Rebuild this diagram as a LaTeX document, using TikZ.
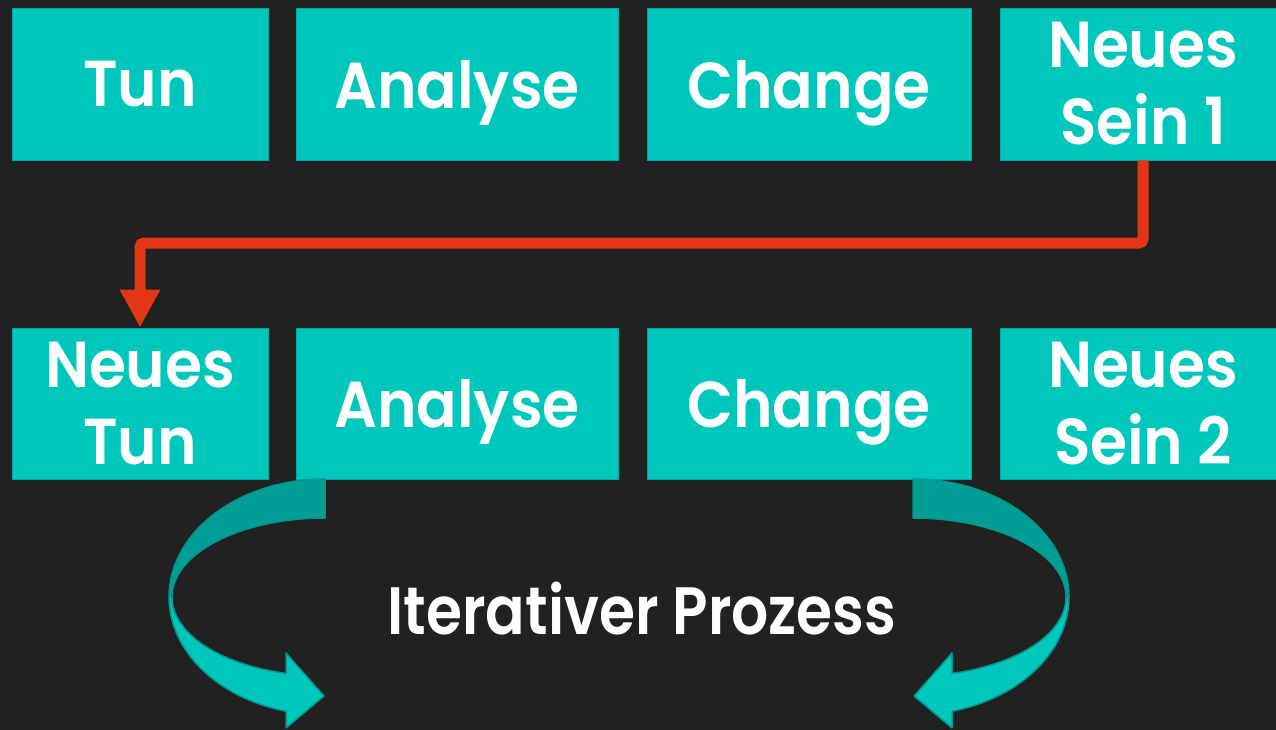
\documentclass[tikz,border=0pt]{standalone}
\usepackage{fontspec}
\setmainfont{Poppins}
\newfontfamily\boxfont{Poppins SemiBold}[FakeStretch=0.92]
\newfontfamily\iterfont{Poppins SemiBold}[FakeStretch=0.87]
\usetikzlibrary{arrows.meta}
\definecolor{bg}{HTML}{212121}
\definecolor{boxteal}{HTML}{00C7BB}
\definecolor{boxedge}{HTML}{00A99F}
\definecolor{darkband}{HTML}{009E94}
\definecolor{bandline}{HTML}{00968C}
\definecolor{arrowred}{HTML}{E23516}
\newcommand\iterarrow{%
  \filldraw[band, fill=darkband]
    plot[domain=270:180, samples=50, variable=\t] ({325+156*cos(\t)},{597+118*sin(\t)})
    -- plot[domain=180:270, samples=50, variable=\t] ({325+153*cos(\t)},{597+79*sin(\t)})
    -- cycle;
  \filldraw[band, fill=boxteal]
    plot[domain=180:104.48, samples=50, variable=\t] ({325+156*cos(\t)},{597+118*sin(\t)})
    -- (286,728) -- (324,696) -- (286,653) -- (286,673.4)
    -- plot[domain=104.77:180, samples=50, variable=\t] ({325+153*cos(\t)},{597+79*sin(\t)})
    -- cycle;
}
\begin{document}
\begin{tikzpicture}[x=1pt,y=-1pt,
  box/.style={fill=boxteal, draw=boxedge, line width=0.8pt, minimum height=152pt,
    inner sep=0pt, text=white, align=center,
    font=\boxfont\fontsize{65}{77}\selectfont},
  redarrow/.style={draw=arrowred, line width=11pt, rounded corners=4pt,
    -{Triangle[width=38pt,length=38pt]}},
  band/.style={draw=bandline, line width=1.5pt, line join=round},
  label/.style={text=white, inner sep=0pt, font=\iterfont\fontsize{67}{78}\selectfont}]
\fill[bg] (0,0) rectangle (1276,730);
\useasboundingbox (0,0) rectangle (1276,730);
% row 1
\node[box, minimum width=256pt] (tun) at (140,84) {Tun};
\node[box, minimum width=322pt, text depth=0pt] (an1) at (457,84) {Analyse};
\node[box, minimum width=324pt, text depth=0pt] (ch1) at (809,84) {Change};
\node[box, minimum width=286pt] (s1) at (1143,84) {Neues\\Sein 1};
% row 2
\node[box, minimum width=256pt, minimum height=151pt] (nt) at (140,403.5) {Neues\\Tun};
\node[box, minimum width=322pt, minimum height=151pt, text depth=0pt] (an2) at (457,403.5) {Analyse};
\node[box, minimum width=324pt, minimum height=151pt, text depth=0pt] (ch2) at (809,403.5) {Change};
\node[box, minimum width=286pt, minimum height=151pt] (s2) at (1143,403.5) {Neues\\Sein 2};
% red connector
\coordinate (lineY) at (0,243);
\draw[redarrow] (s1.south) -- (s1.south |- lineY) -| (nt.north);
% curved arrows
\iterarrow
\begin{scope}[xshift=1238pt, xscale=-1]
\iterarrow
\end{scope}
\node[label] (iter) at (642,608.5) {Iterativer Prozess};
\end{tikzpicture}
\end{document}
